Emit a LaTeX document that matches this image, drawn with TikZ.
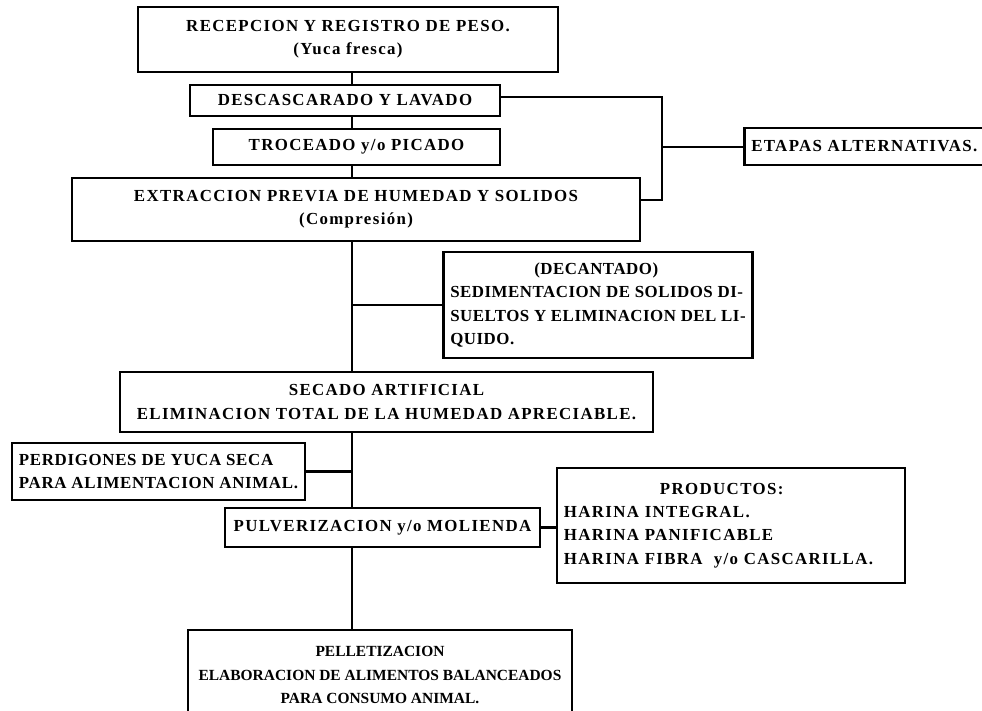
\documentclass[tikz,border=0pt]{standalone}
\usepackage{fontspec}
\setmainfont{Liberation Serif}[LetterSpace=8]
\usetikzlibrary{positioning, calc}

\begin{document}
\begin{tikzpicture}[
    x=0.025cm, y=-0.025cm,
    font=\fontsize{12}{16.5}\selectfont\bfseries,
    stage/.style={
        draw=black,
        line width=1.8pt,
        align=center,
        inner sep=2pt
    },
    notebox/.style={
        draw=black,
        line width=1.8pt,
        align=left,
        inner xsep=5pt,
        inner ysep=2pt
    },
    link/.style={
        line width=1.6pt,
        draw=black
    }
]

\useasboundingbox (0,0) rectangle (982,711);

% --- Main sequence (top to bottom) -----------------------------------------
\node[stage, minimum width=10.5cm, minimum height=1.625cm] (recep) at (348,39.5)
    {RECEPCION Y REGISTRO DE PESO.\\(Yuca fresca)};
\node[stage, minimum width=7.75cm, minimum height=0.775cm] (desc) at (345,100.5)
    {\raisebox{-4pt}{DESCASCARADO Y LAVADO}};
\node[stage, minimum width=7.175cm, minimum height=0.9cm] (troc) at (356.5,147)
    {TROCEADO y/o PICADO};
\node[stage, minimum width=14.2cm, minimum height=1.575cm] (ext) at (356,209.5)
    {EXTRACCION PREVIA DE HUMEDAD Y SOLIDOS\\(Compresión)};
\node[stage, minimum width=13.325cm, minimum height=1.5cm] (secado) at (386.5,402)
    {SECADO ARTIFICIAL\\ELIMINACION TOTAL DE LA HUMEDAD APRECIABLE.};
\node[stage, minimum width=7.875cm, minimum height=0.975cm] (pulv) at (382.5,527.5)
    {PULVERIZACION y/o MOLIENDA};
\node[stage, minimum width=9.6cm, minimum height=2.25cm,
      font=\fontsize{11}{16.5}\selectfont\bfseries\addfontfeature{LetterSpace=0}]
    (pellet) at (380,675)
    {PELLETIZACION\\ELABORACION DE ALIMENTOS BALANCEADOS\\PARA CONSUMO ANIMAL.};

% --- Side boxes -------------------------------------------------------------
\node[notebox, anchor=west, text width=6.2cm, minimum height=0.925cm] (etapas)
    at (743,146.5) {\raisebox{-4pt}{ETAPAS ALTERNATIVAS.}};
\node[notebox, minimum width=7.5cm, minimum height=2.65cm,
      font=\fontsize{12}{16.5}\selectfont\bfseries\addfontfeature{LetterSpace=3}]
    (dec) at (598,305)
    {\hspace*{2.1cm}(DECANTADO)\\
     SEDIMENTACION DE SOLIDOS DI-\\
     SUELTOS Y ELIMINACION DEL LI-\\
     QUIDO.};
\node[notebox, minimum width=7.325cm, minimum height=1.425cm,
      font=\fontsize{12}{16.5}\selectfont\bfseries\addfontfeature{LetterSpace=4}]
    (perd) at (158.5,471.5)
    {PERDIGONES DE YUCA SECA\\PARA ALIMENTACION ANIMAL.};
\node[notebox, text width=8.35cm, minimum height=2.875cm] (prod) at (731,525.5)
    {\hspace*{2.4cm}PRODUCTOS:\\
     HARINA INTEGRAL.\\
     HARINA PANIFICABLE\\
     HARINA FIBRA\ \ y/o CASCARILLA.};

% --- Trunk ------------------------------------------------------------------
\coordinate (trunk) at (352,0);
\coordinate (alt) at (662,147);

\draw[link] (recep.south -| trunk) -- (desc.north -| trunk);
\draw[link] (desc.south -| trunk) -- (troc.north -| trunk);
\draw[link] (troc.south -| trunk) -- (ext.north -| trunk);
\draw[link] (ext.south -| trunk) -- (secado.north -| trunk);
\draw[link] (secado.south -| trunk) -- (pulv.north -| trunk);
\draw[link] (pulv.south -| trunk) -- (pellet.north -| trunk);

% --- Branches ---------------------------------------------------------------
\draw[link] ([yshift=0.09cm]desc.east) -| (alt) |- ([yshift=0.24cm]ext.east);
\draw[link] (alt) -- (alt -| etapas.west);
\draw[link] (trunk |- dec.west) -- (dec.west);
\draw[link] (perd.east) -- (perd.east -| trunk);
\draw[link] (pulv.east) -- (pulv.east -| prod.west);

\end{tikzpicture}
\end{document}
